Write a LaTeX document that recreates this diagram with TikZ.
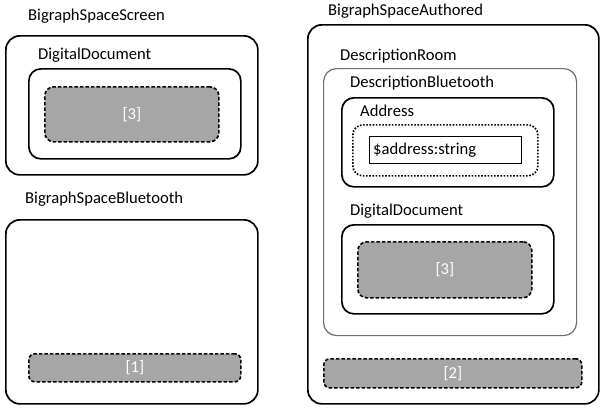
\documentclass[tikz,border=0pt]{standalone}
\usepackage{fontspec}
\setmainfont{Carlito}
\usetikzlibrary{positioning}
\definecolor{siteGrey}{HTML}{A6A6A6}
\definecolor{roomLine}{HTML}{6E6E6E}

\begin{document}
\begin{tikzpicture}[x=1pt, y=-1pt,
    every node/.style={font=\fontsize{16.6}{19}\selectfont},
    title/.style={anchor=west, inner sep=0pt},
    region/.style={draw, line width=1.7pt, rounded corners=14pt, anchor=north west, inner sep=0pt},
    room/.style={draw=roomLine, line width=1.2pt, rounded corners=13pt, anchor=north west, inner sep=0pt},
    site/.style={draw, dash pattern=on 3.5pt off 2pt, line width=1.6pt, fill=siteGrey, text=white, rounded corners=9pt, anchor=north west, inner sep=0pt},
    portbox/.style={draw, dash pattern=on 1.6pt off 1.6pt, line width=1.7pt, rounded corners=10pt, anchor=north west, inner sep=0pt},
    valuebox/.style={draw, line width=1pt, anchor=north west, inner sep=0pt}]
    \useasboundingbox (0,0) rectangle (604,407);

    % left column
    \node[title] (screenT) at (28,16) {BigraphSpaceScreen};
    \node[region, minimum width=252, minimum height=139] (screen) at (5,35) {};
    \node[title] (docT) at (38,55) {DigitalDocument};
    \node[region, rounded corners=12pt, minimum width=212, minimum height=90] (doc) at (28,68) {};
    \node[site, minimum width=174, minimum height=55] (siteA) at (44,86) {[3]};

    \node[title] (btT) at (25,199) {BigraphSpaceBluetooth};
    \node[region, minimum width=252, minimum height=184] (bt) at (5,219) {};
    \node[site, rounded corners=6pt, minimum width=212, minimum height=28] (siteB) at (28,353) {[1]};

    % right column
    \node[title] (authT) at (328,11) {BigraphSpaceAuthored};
    \node[region, minimum width=291, minimum height=379] (auth) at (307,24) {};
    \node[title] (roomT) at (340,56) {DescriptionRoom};
    \node[room, minimum width=253, minimum height=267] (desc) at (323,68) {};
    \node[title] (dbT) at (350,83) {DescriptionBluetooth};
    \node[region, rounded corners=12pt, minimum width=212, minimum height=89] (addr) at (341,97) {};
    \node[title] (addrT) at (360,111) {Address};
    \node[portbox, minimum width=185, minimum height=51] (port) at (352,124) {};
    \node[valuebox, minimum width=152, minimum height=27] (val) at (369,136) {};
    \node[title] (valT) at (373,150) {\$address:string};
    \node[title] (doc2T) at (350,211) {DigitalDocument};
    \node[region, rounded corners=12pt, minimum width=212, minimum height=89] (doc2) at (341,224) {};
    \node[site, minimum width=174, minimum height=56] (siteC) at (357,241) {[3]};
    \node[site, rounded corners=6pt, minimum width=258, minimum height=29] (siteD) at (323,358) {[2]};
\end{tikzpicture}
\end{document}
